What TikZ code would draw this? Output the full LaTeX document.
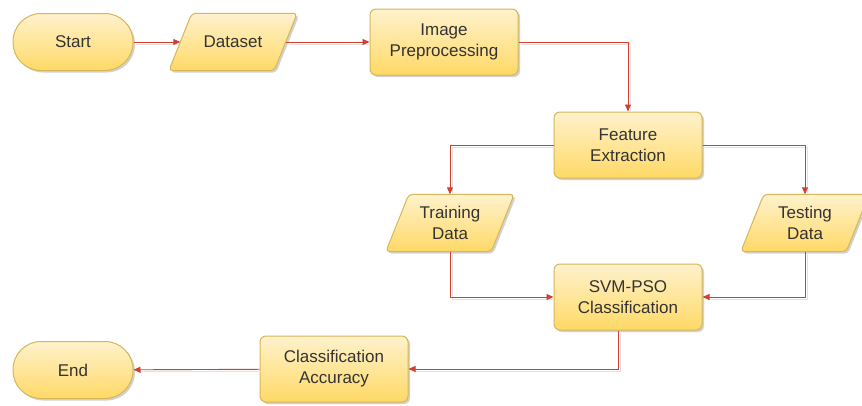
\documentclass[tikz,border=0pt]{standalone}
\usepackage{fontspec}
\setmainfont{Liberation Sans}
\usetikzlibrary{shadows,arrows.meta}
\definecolor{boxtop}{HTML}{FFF2CC}
\definecolor{boxbot}{HTML}{FFD966}
\definecolor{boxline}{HTML}{D6B656}
\definecolor{flow}{HTML}{D04030}
\definecolor{flowshade}{HTML}{E2E2E2}
\definecolor{txt}{HTML}{333333}
\tikzset{
  skin/.style={draw=boxline, line width=1pt, top color=boxtop, bottom color=boxbot,
    drop shadow={shadow xshift=2pt, shadow yshift=-2pt, fill=black, opacity=0.18}},
  label/.style={text=txt, font=\fontsize{17}{21}\selectfont, align=center, inner sep=0pt},
  terminal/.style={skin, label, rectangle, rounded corners=28pt, minimum width=120pt, minimum height=57pt},
  process/.style={skin, label, rectangle, rounded corners=6pt, minimum width=148pt, minimum height=66pt},
  % slanted data box: the node fixes the place, the outline is drawn round it
  iobox/.style={label, rectangle, minimum width=105pt, minimum height=57pt},
  ioskin/.style={skin, rounded corners=4pt},
  flowline/.style={draw=flow, line width=0.9pt, -{Triangle[length=7pt,width=6pt]}},
  shadeline/.style={draw=flowshade, line width=1pt, shorten >=3pt}
}
\begin{document}
\begin{tikzpicture}[x=1pt, y=-1pt]
\useasboundingbox (0,0) rectangle (862,405);
\node[terminal] (start) at (73,42) {Start};
\node[iobox] (data) at (233,42) {};
\node[process] (pre) at (444,42) {Image\\Preprocessing};
\node[process] (feat) at (628,145) {Feature\\Extraction};
\node[iobox] (train) at (450,223) {};
\node[iobox] (test) at (805,223) {};
\node[process] (svm) at (628,297) {SVM-PSO\\Classification};
\node[process] (acc) at (334,369) {Classification\\Accuracy};
\node[terminal] (end) at (73,370) {End};
% outlines of the slanted data boxes
\path[ioskin] ([xshift=11.5pt]data.north west) -- ([xshift=11.5pt]data.north east)
  -- ([xshift=-11.5pt]data.south east) -- ([xshift=-11.5pt]data.south west) -- cycle;
\node[label] at (data) {Dataset};
\path[ioskin] ([xshift=11.5pt]train.north west) -- ([xshift=11.5pt]train.north east)
  -- ([xshift=-11.5pt]train.south east) -- ([xshift=-11.5pt]train.south west) -- cycle;
\node[label] at (train) {Training\\Data};
\path[ioskin] ([xshift=11.5pt]test.north west) -- ([xshift=11.5pt]test.north east)
  -- ([xshift=-11.5pt]test.south east) -- ([xshift=-11.5pt]test.south west) -- cycle;
\node[label] at (test) {Testing\\Data};
% soft grey duplicates under each connector
\begin{scope}[transform canvas={shift={(2pt,-2pt)}}]
\draw[shadeline] (start) -- (data);
\draw[shadeline] (data) -- (pre);
\draw[shadeline] (pre.east) -| (feat.north);
\draw[shadeline] (feat.west) -| (train.north);
\draw[shadeline] (feat.east) -| (test.north);
\draw[shadeline] (train.south) |- (svm.west);
\draw[shadeline] (test.south) |- (svm.east);
\draw[shadeline] ([xshift=-10pt]svm.south) |- (acc.east);
\draw[shadeline] (acc) -- (end);
\end{scope}
% connectors
\draw[flowline] (start) -- (data);
\draw[flowline] (data) -- (pre);
\draw[flowline] (pre.east) -| (feat.north);
\draw[flowline] (feat.west) -| (train.north);
\draw[flowline] (feat.east) -| (test.north);
\draw[flowline] (train.south) |- (svm.west);
\draw[flowline] (test.south) |- (svm.east);
\draw[flowline] ([xshift=-10pt]svm.south) |- (acc.east);
\draw[flowline] (acc) -- (end);
\end{tikzpicture}
\end{document}
